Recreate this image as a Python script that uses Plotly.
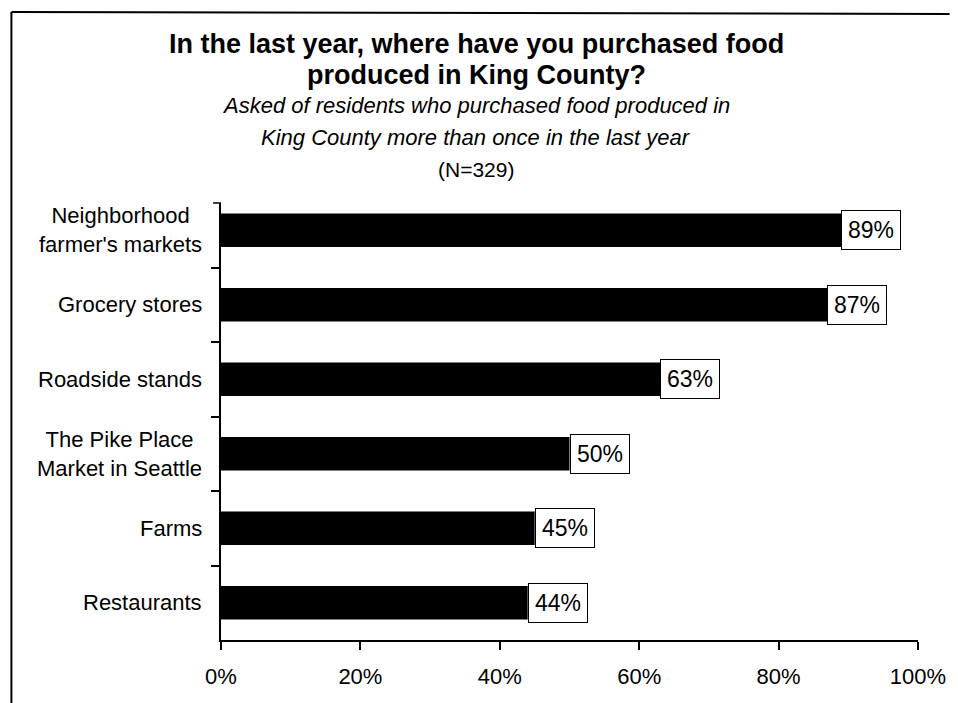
import plotly.graph_objects as go

categories = ["Neighborhood<br>farmer's markets", "Grocery stores", "Roadside stands",
              "The Pike Place<br>Market in Seattle", "Farms", "Restaurants"]
values = [89, 87, 63, 50, 45, 44]
value_labels = ["89%", "87%", "63%", "50%", "45%", "44%"]
x_ticks = [0, 20, 40, 60, 80, 100]
x_tick_labels = ["0%", "20%", "40%", "60%", "80%", "100%"]

# page body adds an 8px margin; work in screen pixels and convert
OFF = 8
W, H = 950, 695
AX_LEFT, AX_RIGHT, AX_TOP, AX_BOTTOM = 221, 926, 203, 640
L, R, T, B = AX_LEFT - OFF, W - (AX_RIGHT - OFF), AX_TOP - OFF, H - (AX_BOTTOM - OFF)
pw, ph = W - L - R, H - T - B

def px_x(sx):
    return (sx - OFF - L) / pw

def px_y(sy):
    return (H - B - (sy - OFF)) / ph

FONT = "Liberation Sans, Arial, sans-serif"

fig = go.Figure(go.Bar(
    x=values, y=categories, orientation="h",
    marker=dict(color="black", line=dict(width=0)),
    width=0.45, hoverinfo="skip",
))

annotations = []
for v, lab, c in zip(values, value_labels, categories):
    annotations.append(dict(
        x=v, y=c, xref="x", yref="y", text=lab, showarrow=False,
        xanchor="left", yanchor="middle", bgcolor="white",
        bordercolor="black", borderwidth=1, borderpad=6,
        font=dict(family=FONT, size=23, color="black"),
    ))
for c in categories:
    annotations.append(dict(
        x=0, y=c, xref="paper", yref="y", text=c, showarrow=False,
        xanchor="right", yanchor="middle", align="center", xshift=-17,
        font=dict(family=FONT, size=22, color="black"),
    ))
title_lines = [
    ("<b>In the last year, where have you purchased food</b>", 44, 27),
    ("<b>produced in King County?</b>", 75, 27),
    ("<i>Asked of residents who purchased food produced in</i>", 106, 22),
    ("<i>King County more than once in the last year</i>", 138, 22),
    ("(N=329)", 170, 21),
]
for txt, sy, sz in title_lines:
    annotations.append(dict(
        x=px_x(479), y=px_y(sy), xref="paper", yref="paper", text=txt,
        showarrow=False, xanchor="center", yanchor="middle",
        font=dict(family=FONT, size=sz, color="black"),
    ))

shapes = [
    dict(type="line", xref="paper", yref="paper", x0=px_x(9), x1=px_x(958),
         y0=px_y(12), y1=px_y(14), line=dict(color="black", width=2)),
    dict(type="line", xref="paper", yref="paper", x0=px_x(9), x1=px_x(9),
         y0=px_y(12), y1=px_y(703), line=dict(color="black", width=2)),
    # end tick at the top of the category axis
    dict(type="line", xref="paper", yref="paper", x0=px_x(213), x1=px_x(221),
         y0=1, y1=1, line=dict(color="black", width=1.5)),
]

# category band ~74.5px; axis top ends 10px below the first band boundary
n = len(categories)
band = 74.5
top_val = -0.5 + (AX_TOP - (AX_BOTTOM - band * n)) / band

fig.update_layout(
    width=W, height=H,
    margin=dict(l=L, r=R, t=T, b=B, pad=0),
    paper_bgcolor="white", plot_bgcolor="white",
    showlegend=False,
    annotations=annotations, shapes=shapes,
    font=dict(family=FONT, color="black"),
)
fig.update_xaxes(
    range=[0, 100], tickvals=x_ticks, ticktext=x_tick_labels,
    showline=True, linecolor="black", linewidth=1.5, showgrid=False, zeroline=False,
    ticks="outside", ticklen=8, tickcolor="black", tickwidth=1.5,
    tickfont=dict(family=FONT, size=22, color="black"), ticklabelstandoff=8,
)
fig.update_yaxes(
    categoryorder="array", categoryarray=categories,
    range=[n - 0.5, top_val], autorange=False,
    showline=True, linecolor="black", linewidth=1.5, showgrid=False,
    ticks="outside", ticklen=8, tickcolor="black", tickwidth=1.5,
    tickson="boundaries", showticklabels=False,
)

fig.write_html("out.html")
